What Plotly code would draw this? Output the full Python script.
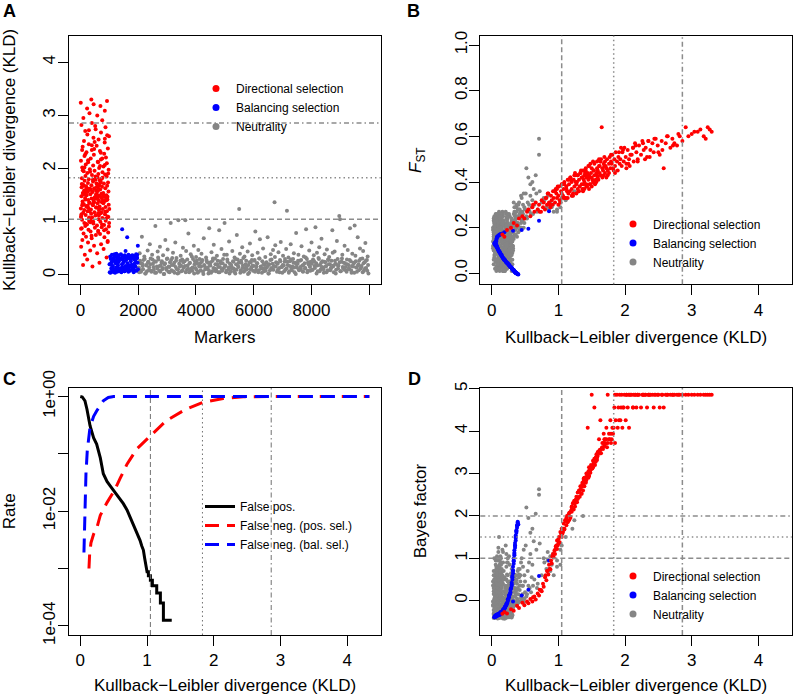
import plotly.graph_objects as go

# ---------------- data ----------------
category_names = ["Directional selection", "Balancing selection", "Neutrality"]
rate_names = ["False pos.", "False neg. (pos. sel.)", "False neg. (bal. sel.)"]

# Directional selection markers: marker index, KLD, FST, log10 Bayes factor
dir_marker = [
    412, 87, 655, 231, 903, 148, 576, 334, 799, 21,
    468, 712, 259, 940, 63, 385, 827, 190, 531, 676,
    105, 958, 347, 612, 274, 883, 40, 497, 731, 162,
    569, 815, 222, 444, 990, 131, 688, 305, 871, 53,
    623, 289, 754, 402, 16, 937, 515, 178, 846, 367,
    701, 94, 482, 913, 243, 636, 359, 772, 12, 548,
    867, 201, 659, 427, 976, 115, 590, 318, 742, 69,
    455, 833, 266, 604, 932, 381, 157, 720, 493, 28,
    647, 212, 895, 340, 561, 79, 786, 418, 967, 253,
    539, 124, 681, 295, 858, 471, 36, 744, 193, 922,
    376, 611, 84, 809, 257, 952, 433, 140, 667, 521,
    283, 729, 47, 588, 904, 170, 396, 851, 615, 232,
    760, 109, 486, 973, 322, 643, 58, 795, 437, 181,
    910, 264, 597, 14, 705, 352, 880, 136, 462, 819,
    205, 672, 391, 946, 73, 558, 287, 837, 119, 625,
    447, 985, 236, 708, 162, 523, 864, 31, 392, 751,
    98, 580, 310, 841, 227, 689, 453, 8, 917, 374,
    634, 269, 792, 503, 145, 868, 325, 601, 44, 778,
    349, 716, 58, 883, 241, 605, 127, 962, 470, 788,
    193, 537, 905, 276, 661, 32, 418, 824, 151, 694,
    880, 312, 747, 99, 566, 429, 981, 214, 639, 355,
    517, 77, 841, 263, 702, 390, 956, 134, 608, 472,
    25, 659, 298, 934, 186, 553, 817, 441, 72, 726,
    613, 246, 871, 405, 118, 760, 337, 995, 579, 208,
    752, 164, 488, 923, 331, 676, 55, 842, 289, 507,
    938, 382, 612, 19, 745, 297, 851, 172, 533, 694,
]
dir_kld = [
    0.16, 0.19, 0.23, 0.29, 0.33, 0.38, 0.41, 0.46, 0.49, 0.53,
    0.55, 0.58, 0.61, 0.64, 0.66, 0.69, 0.71, 0.72, 0.75, 0.77,
    0.78, 0.80, 0.82, 0.83, 0.85, 0.86, 0.88, 0.89, 0.90, 0.92,
    0.93, 0.94, 0.95, 0.97, 0.98, 0.98, 1.00, 1.01, 1.02, 1.04,
    1.05, 1.05, 1.07, 1.08, 1.09, 1.10, 1.12, 1.13, 1.14, 1.15,
    1.16, 1.17, 1.18, 1.20, 1.20, 1.22, 1.23, 1.24, 1.25, 1.27,
    1.28, 1.29, 1.29, 1.31, 1.32, 1.33, 1.35, 1.36, 1.37, 1.38,
    1.39, 1.39, 1.41, 1.42, 1.42, 1.44, 1.45, 1.46, 1.46, 1.48,
    1.49, 1.50, 1.50, 1.52, 1.53, 1.54, 1.54, 1.56, 1.57, 1.58,
    1.59, 1.59, 1.61, 1.62, 1.63, 1.63, 1.65, 1.66, 1.67, 1.68,
    1.69, 1.70, 1.70, 1.72, 1.73, 1.74, 1.76, 1.77, 1.78, 1.79,
    1.80, 1.81, 1.82, 1.84, 1.85, 1.86, 1.88, 1.89, 1.90, 1.92,
    1.93, 1.95, 1.96, 1.98, 1.99, 2.01, 2.02, 2.04, 2.06, 2.08,
    2.10, 2.12, 2.13, 2.15, 2.17, 2.19, 2.21, 2.24, 2.26, 2.28,
    2.31, 2.33, 2.35, 2.38, 2.41, 2.43, 2.46, 2.49, 2.52, 2.55,
    2.58, 2.61, 2.64, 2.68, 2.71, 2.74, 2.78, 2.82, 2.86, 2.91,
    2.95, 3.00, 3.04, 3.09, 3.13, 3.18, 3.21, 3.24, 3.27, 3.30,
    1.12, 1.26, 1.35, 1.44, 1.53, 1.47, 1.62, 1.58, 1.71, 1.38,
    1.03, 1.18, 1.31, 1.45, 1.56, 1.64, 1.22, 1.09, 1.37, 1.50,
    0.96, 1.27, 1.41, 1.60, 1.69, 1.14, 1.33, 1.48, 1.55, 1.74,
    1.06, 1.20, 1.43, 1.52, 1.66, 1.79, 0.91, 1.29, 1.39, 1.61,
    1.85, 1.97, 2.07, 2.16, 2.30, 2.44, 1.91, 2.02, 2.12, 2.37,
    1.11, 1.25, 1.36, 1.47, 1.58, 1.72, 0.84, 1.00, 1.34, 1.53,
    1.16, 1.30, 1.40, 1.57, 1.68, 1.83, 0.99, 1.24, 1.46, 1.63,
    2.19, 2.27, 2.50, 2.63, 1.94, 2.05, 2.35, 2.56, 2.72, 2.80,
    0.62, 0.74, 0.81, 0.87, 0.95, 1.08, 1.19, 1.42, 1.51, 1.76,
]
dir_fst = [
    0.17, 0.16, 0.19, 0.20, 0.22, 0.21, 0.24, 0.25, 0.24, 0.27,
    0.28, 0.25, 0.29, 0.27, 0.31, 0.28, 0.30, 0.27, 0.32, 0.29,
    0.31, 0.28, 0.33, 0.30, 0.35, 0.31, 0.29, 0.34, 0.32, 0.36,
    0.33, 0.36, 0.31, 0.35, 0.37, 0.33, 0.34, 0.38, 0.32, 0.36,
    0.35, 0.39, 0.34, 0.37, 0.40, 0.33, 0.38, 0.36, 0.41, 0.35,
    0.39, 0.36, 0.42, 0.37, 0.40, 0.35, 0.41, 0.38, 0.43, 0.39,
    0.40, 0.37, 0.43, 0.41, 0.38, 0.44, 0.39, 0.42, 0.36, 0.41,
    0.43, 0.40, 0.45, 0.42, 0.38, 0.44, 0.41, 0.47, 0.43, 0.39,
    0.44, 0.42, 0.46, 0.40, 0.45, 0.43, 0.48, 0.41, 0.44, 0.46,
    0.45, 0.42, 0.47, 0.44, 0.49, 0.43, 0.64, 0.46, 0.45, 0.48,
    0.47, 0.44, 0.49, 0.46, 0.50, 0.45, 0.48, 0.51, 0.46, 0.49,
    0.48, 0.52, 0.46, 0.50, 0.47, 0.53, 0.49, 0.45, 0.51, 0.48,
    0.50, 0.47, 0.53, 0.49, 0.55, 0.51, 0.48, 0.54, 0.50, 0.52,
    0.52, 0.55, 0.49, 0.57, 0.53, 0.50, 0.56, 0.52, 0.58, 0.54,
    0.55, 0.51, 0.58, 0.54, 0.57, 0.53, 0.59, 0.56, 0.52, 0.58,
    0.46, 0.57, 0.60, 0.55, 0.59, 0.57, 0.56, 0.60, 0.58, 0.64,
    0.60, 0.61, 0.62, 0.62, 0.63, 0.60, 0.59, 0.64, 0.63, 0.62,
    0.37, 0.40, 0.42, 0.43, 0.45, 0.42, 0.47, 0.43, 0.47, 0.39,
    0.31, 0.42, 0.36, 0.47, 0.40, 0.50, 0.34, 0.39, 0.45, 0.38,
    0.37, 0.35, 0.46, 0.41, 0.51, 0.33, 0.44, 0.48, 0.39, 0.43,
    0.39, 0.34, 0.38, 0.49, 0.42, 0.52, 0.30, 0.43, 0.37, 0.50,
    0.44, 0.54, 0.47, 0.56, 0.50, 0.59, 0.53, 0.46, 0.55, 0.51,
    0.33, 0.44, 0.37, 0.39, 0.49, 0.42, 0.35, 0.30, 0.45, 0.40,
    0.41, 0.36, 0.44, 0.40, 0.43, 0.45, 0.38, 0.43, 0.37, 0.49,
    0.49, 0.57, 0.53, 0.60, 0.55, 0.48, 0.58, 0.54, 0.56, 0.61,
    0.30, 0.27, 0.33, 0.30, 0.36, 0.33, 0.41, 0.39, 0.41, 0.44,
]
dir_bf = [
    -0.31, -0.27, -0.30, -0.20, -0.24, -0.12, -0.17, -0.05, -0.11, -0.02,
    -0.06, 0.04, -0.02, 0.10, 0.03, 0.17, 0.12, 0.26, 0.22, 0.40,
    0.33, 0.55, 0.48, 0.70, 0.62, 0.85, 0.74, 0.95, 0.88, 1.10,
    1.02, 1.18, 1.10, 1.30, 1.22, 1.42, 1.35, 1.50, 1.38, 1.58,
    1.50, 1.70, 1.62, 1.82, 1.70, 1.90, 1.78, 2.00, 1.85, 2.02,
    1.90, 2.08, 1.98, 2.20, 2.10, 2.30, 2.15, 2.35, 2.22, 2.45,
    2.32, 2.55, 2.40, 2.60, 2.45, 2.70, 2.52, 2.78, 2.60, 2.85,
    2.70, 2.90, 2.78, 3.00, 2.85, 4.08, 3.05, 2.95, 3.15, 3.02,
    3.20, 4.86, 3.12, 3.30, 3.22, 4.56, 3.35, 3.28, 3.45, 3.38,
    3.50, 3.42, 3.81, 3.55, 3.48, 4.26, 3.60, 3.72, 3.58, 3.94,
    3.65, 3.81, 3.72, 4.08, 3.62, 4.86, 3.94, 3.81, 4.26, 3.72,
    3.81, 4.08, 3.94, 4.56, 3.72, 4.26, 4.86, 4.08, 4.56, 4.86,
    4.26, 4.86, 4.08, 4.56, 4.86, 4.26, 4.86, 4.56, 4.08, 4.86,
    4.86, 4.56, 4.86, 4.86, 4.56, 4.86, 4.86, 4.56, 4.86, 4.86,
    4.86, 4.56, 4.86, 4.86, 4.86, 4.56, 4.86, 4.86, 4.56, 4.86,
    4.56, 4.86, 4.86, 4.86, 4.86, 4.86, 4.86, 4.86, 4.86, 4.86,
    4.86, 4.86, 4.86, 4.86, 4.86, 4.86, 4.86, 4.86, 4.86, 4.86,
    1.95, 2.38, 2.68, 3.00, 3.25, 3.10, 3.55, 3.40, 3.70, 2.88,
    1.62, 1.95, 2.58, 2.90, 3.38, 3.48, 2.30, 1.68, 2.75, 3.15,
    1.28, 2.35, 2.80, 3.52, 3.81, 1.88, 2.62, 3.08, 3.20, 3.72,
    1.58, 2.22, 2.98, 3.15, 3.62, 3.94, 1.05, 2.42, 2.88, 3.50,
    4.86, 4.56, 4.86, 4.86, 4.86, 4.86, 4.26, 4.86, 4.56, 4.86,
    1.88, 2.30, 2.74, 3.06, 3.32, 3.81, 0.70, 1.45, 2.52, 3.28,
    2.06, 2.44, 2.90, 3.35, 3.72, 4.08, 1.30, 2.36, 2.94, 3.56,
    4.86, 4.86, 4.86, 4.86, 4.56, 4.86, 4.86, 4.86, 4.86, 4.86,
    0.08, 0.25, 0.60, 0.75, 1.20, 1.70, 2.12, 2.92, 3.12, 3.81,
]

# Balancing selection markers
bal_marker = [
    1012, 1187, 1364, 1529, 1703, 1881, 1245, 1420, 1598, 1776,
    1033, 1415, 1842, 1270, 1658, 1096, 1523, 1937, 1348, 1721,
    1158, 1604, 1989, 1387, 1065, 1812, 1459, 1233, 1676, 1901,
    1121, 1547, 1298, 1763, 1004, 1435, 1869, 1212, 1630, 1978,
    1075, 1489, 1917, 1326, 1741, 1169, 1582, 1258, 1854, 1403,
    1047, 1692, 1375, 1963, 1138, 1567, 1284, 1829, 1511, 1206,
    1884, 1313, 1749, 1026, 1612, 1446, 1951, 1179, 1536, 1797,
    1087, 1662, 1398, 1925, 1241, 1440, 1703, 1570, 1115, 1836,
    1442, 1616, 1985, 1560, 1333, 1148, 1472, 1805, 1291, 1687,
    1053, 1261, 1477, 1688, 1904, 1117, 1339, 1551, 1772, 1960,
    1142, 1368, 1584, 1795, 1029, 1226, 1452, 1663, 1879, 1310,
    1196, 1407, 1619, 1833, 1071, 1288, 1506, 1729, 1944, 1176,
]
bal_kld = [
    0.05, 0.06, 0.07, 0.07, 0.08, 0.09, 0.11, 0.13, 0.16, 0.19,
    0.04, 0.05, 0.05, 0.06, 0.06, 0.07, 0.07, 0.08, 0.08, 0.09,
    0.10, 0.10, 0.11, 0.12, 0.12, 0.13, 0.14, 0.14, 0.15, 0.16,
    0.17, 0.17, 0.18, 0.19, 0.20, 0.20, 0.21, 0.22, 0.22, 0.23,
    0.24, 0.24, 0.25, 0.26, 0.26, 0.27, 0.28, 0.28, 0.29, 0.30,
    0.30, 0.31, 0.31, 0.32, 0.32, 0.32, 0.33, 0.33, 0.33, 0.34,
    0.34, 0.34, 0.35, 0.35, 0.35, 0.36, 0.36, 0.36, 0.37, 0.37,
    0.38, 0.38, 0.39, 0.39, 0.40, 0.07, 0.09, 0.12, 0.15, 0.18,
    0.86, 0.71, 0.55, 0.45, 0.32, 0.06, 0.08, 0.10, 0.12, 0.15,
    0.05, 0.09, 0.13, 0.18, 0.23, 0.27, 0.31, 0.34, 0.36, 0.38,
    0.06, 0.08, 0.11, 0.15, 0.20, 0.25, 0.29, 0.33, 0.35, 0.37,
    0.04, 0.07, 0.10, 0.14, 0.19, 0.22, 0.26, 0.30, 0.32, 0.39,
]
bal_fst = [
    0.125, 0.140, 0.150, 0.142, 0.160, 0.162, 0.168, 0.172, 0.175, 0.180,
    0.130, 0.135, 0.125, 0.130, 0.122, 0.125, 0.118, 0.118, 0.112, 0.108,
    0.103, 0.100, 0.095, 0.090, 0.092, 0.085, 0.080, 0.082, 0.076, 0.072,
    0.068, 0.066, 0.063, 0.060, 0.056, 0.058, 0.052, 0.050, 0.047, 0.045,
    0.042, 0.044, 0.040, 0.037, 0.035, 0.032, 0.030, 0.028, 0.027, 0.025,
    0.022, 0.020, 0.018, 0.017, 0.016, 0.015, 0.014, 0.013, 0.012, 0.010,
    0.009, 0.008, 0.007, 0.006, 0.005, 0.004, 0.003, 0.002, 0.001, 0.000,
    -0.001, -0.002, -0.003, -0.004, -0.005, 0.120, 0.110, 0.094, 0.080, 0.065,
    0.272, 0.230, 0.195, 0.190, 0.187, 0.140, 0.155, 0.165, 0.168, 0.172,
    0.128, 0.108, 0.088, 0.063, 0.046, 0.032, 0.019, 0.009, 0.003, -0.001,
    0.130, 0.115, 0.098, 0.076, 0.056, 0.040, 0.027, 0.013, 0.006, 0.001,
    0.132, 0.120, 0.102, 0.082, 0.058, 0.049, 0.036, 0.023, 0.016, -0.003,
]
bal_bf = [
    -0.36, -0.35, -0.33, -0.36, -0.34, -0.32, -0.31, -0.30, -0.28, -0.26,
    -0.39, -0.37, -0.38, -0.36, -0.38, -0.35, -0.37, -0.34, -0.36, -0.33,
    -0.34, -0.31, -0.32, -0.30, -0.33, -0.28, -0.30, -0.26, -0.27, -0.25,
    -0.24, -0.21, -0.22, -0.18, -0.17, -0.14, -0.13, -0.10, -0.07, -0.06,
    -0.02, 0.03, 0.05, 0.08, 0.12, 0.15, 0.20, 0.25, 0.30, 0.35,
    0.42, 0.50, 0.58, 0.65, 0.72, 0.80, 0.87, 0.93, 1.00, 1.07,
    1.13, 1.19, 1.25, 1.30, 1.36, 1.42, 1.48, 1.54, 1.60, 1.66,
    1.72, 1.78, 1.83, 1.86, 1.80, -0.37, -0.35, -0.33, -0.29, -0.24,
    0.95, 0.58, 0.26, 0.12, -0.02, -0.35, -0.34, -0.32, -0.30, -0.27,
    -0.38, -0.34, -0.29, -0.20, -0.06, 0.15, 0.55, 1.10, 1.50, 1.77,
    -0.37, -0.35, -0.31, -0.27, -0.15, 0.02, 0.28, 0.95, 1.30, 1.64,
    -0.39, -0.36, -0.33, -0.28, -0.18, -0.10, 0.10, 0.38, 0.70, 1.84,
]

# Neutral markers
neu_marker = [
    2008, 2031, 2049, 2077, 2103, 2126, 2150, 2181, 2209, 2240,
    2271, 2298, 2324, 2352, 2378, 2401, 2429, 2455, 2480, 2511,
    2540, 2566, 2593, 2619, 2647, 2672, 2698, 2726, 2751, 2778,
    2806, 2831, 2860, 2884, 2912, 2938, 2965, 2990, 3017, 3044,
    3071, 3098, 3124, 3150, 3177, 3203, 3231, 3256, 3284, 3310,
    3339, 3363, 3390, 3418, 3444, 3469, 3497, 3522, 3548, 3575,
    3605, 3630, 3658, 3684, 3711, 3737, 3764, 3790, 3817, 3843,
    3873, 3897, 3925, 3950, 3978, 4003, 4029, 4056, 4081, 4109,
    4139, 4164, 4190, 4218, 4243, 4270, 4296, 4323, 4349, 4375,
    4406, 4431, 4458, 4484, 4510, 4537, 4563, 4589, 4616, 4642,
    4672, 4699, 4725, 4751, 4778, 4804, 4830, 4857, 4883, 4910,
    4938, 4964, 4990, 5016, 5043, 5069, 5095, 5122, 5147, 5174,
    5206, 5231, 5258, 5283, 5310, 5336, 5362, 5389, 5415, 5441,
    5473, 5496, 5522, 5549, 5575, 5601, 5627, 5654, 5680, 5707,
    5739, 5764, 5790, 5817, 5843, 5869, 5896, 5922, 5948, 5975,
    6004, 6031, 6057, 6083, 6110, 6136, 6162, 6189, 6215, 6241,
    6272, 6298, 6324, 6351, 6377, 6403, 6430, 6456, 6482, 6509,
    6538, 6564, 6590, 6617, 6643, 6669, 6696, 6722, 6748, 6775,
    6806, 6831, 6858, 6884, 6911, 6937, 6963, 6990, 7016, 7042,
    7072, 7098, 7124, 7151, 7177, 7203, 7230, 7256, 7282, 7309,
    7338, 7364, 7391, 7417, 7444, 7470, 7496, 7523, 7549, 7575,
    7604, 7631, 7657, 7684, 7710, 7736, 7763, 7789, 7815, 7842,
    7871, 7898, 7924, 7951, 7977, 8003, 8030, 8056, 8082, 8108,
    8139, 8165, 8191, 8218, 8244, 8270, 8297, 8323, 8349, 8376,
    8404, 8430, 8457, 8484, 8510, 8536, 8563, 8589, 8615, 8642,
    8672, 8697, 8724, 8750, 8776, 8803, 8829, 8855, 8882, 8908,
    8939, 8965, 8991, 9018, 9044, 9070, 9097, 9123, 9149, 9176,
    9205, 9231, 9258, 9284, 9310, 9337, 9363, 9389, 9416, 9442,
    9471, 9497, 9524, 9550, 9576, 9603, 9629, 9655, 9682, 9708,
    9738, 9764, 9791, 9817, 9843, 9869, 9896, 9922, 9948, 9975,
    2019, 2062, 2094, 2141, 2168, 2223, 2257, 2289, 2337, 2366,
    2418, 2447, 2493, 2527, 2578, 2611, 2660, 2688, 2739, 2764,
    2819, 2849, 2897, 2925, 2977, 3004, 3057, 3086, 3137, 3163,
    3215, 3244, 3297, 3325, 3376, 3404, 3457, 3483, 3535, 3563,
    3617, 3645, 3697, 3724, 3776, 3803, 3856, 3884, 3937, 3964,
    4016, 4043, 4096, 4124, 4177, 4204, 4256, 4284, 4336, 4362,
    4418, 4444, 4497, 4523, 4576, 4602, 4655, 4684, 4737, 4764,
    4817, 4845, 4897, 4924, 4977, 5004, 5056, 5083, 5135, 5162,
    5218, 5245, 5296, 5323, 5375, 5402, 5455, 5484, 5536, 5562,
    5614, 5642, 5694, 5720, 5753, 5803, 5856, 5883, 5935, 5962,
    6017, 6044, 6096, 6123, 6175, 6202, 6255, 6284, 6337, 6364,
    6416, 6443, 6495, 6522, 6577, 6604, 6656, 6683, 6735, 6762,
    6818, 6845, 6897, 6924, 6976, 7003, 7055, 7085, 7137, 7164,
    7216, 7243, 7295, 7322, 7377, 7404, 7457, 7483, 7536, 7562,
    7617, 7644, 7697, 7723, 7776, 7802, 7856, 7884, 7937, 7964,
    8016, 8043, 8095, 8122, 8178, 8204, 8257, 8284, 8336, 8363,
    8417, 8443, 8496, 8523, 8576, 8602, 8655, 8684, 8737, 8764,
    8816, 8842, 8895, 8922, 8977, 9004, 9057, 9084, 9136, 9163,
    9218, 9244, 9297, 9323, 9376, 9402, 9455, 9484, 9537, 9563,
    9616, 9643, 9695, 9722, 9777, 9804, 9856, 9883, 9935, 9962,
]
neu_kld = [
    0.12, 0.05, 0.41, 0.22, 0.09, 0.72, 0.17, 0.28, 0.35, 0.03,
    0.19, 0.07, 0.46, 0.25, 0.14, 0.58, 0.31, 0.06, 0.38, 0.21,
    0.10, 0.26, 0.92, 0.04, 0.16, 0.44, 0.29, 0.08, 0.53, 0.18,
    0.23, 0.11, 0.37, 0.02, 0.20, 0.66, 0.13, 0.30, 0.48, 0.06,
    0.15, 0.24, 0.98, 0.09, 0.32, 0.42, 0.19, 0.04, 0.61, 0.27,
    0.11, 0.03, 1.03, 0.21, 0.16, 0.36, 0.07, 0.29, 0.51, 0.14,
    0.26, 1.03, 0.45, 0.10, 0.18, 0.78, 0.05, 0.23, 0.39, 0.12,
    0.08, 0.30, 0.55, 0.20, 0.13, 0.34, 0.27, 0.04, 0.47, 0.16,
    0.22, 0.09, 0.40, 0.28, 0.06, 0.69, 0.17, 0.11, 0.33, 0.25,
    0.14, 0.03, 0.88, 0.19, 0.24, 0.43, 0.07, 0.31, 0.57, 0.12,
    0.20, 0.10, 0.36, 0.27, 0.05, 0.84, 0.15, 0.22, 0.49, 0.08,
    0.30, 0.13, 0.98, 0.18, 0.05, 0.38, 0.25, 0.10, 0.63, 0.21,
    0.07, 0.16, 0.45, 0.26, 0.12, 0.33, 0.03, 0.20, 0.75, 0.29,
    0.15, 1.24, 0.40, 0.09, 0.23, 0.52, 0.18, 0.06, 0.35, 0.13,
    0.27, 0.11, 0.44, 0.19, 0.04, 0.59, 0.24, 0.14, 0.37, 0.08,
    0.17, 0.28, 0.82, 0.10, 0.22, 0.42, 0.05, 0.31, 0.67, 0.16,
    0.12, 0.26, 0.50, 0.07, 0.19, 0.34, 0.23, 0.14, 0.71, 0.03,
    0.20, 0.09, 0.39, 0.29, 0.11, 0.47, 0.17, 1.37, 0.56, 0.24,
    0.06, 0.21, 0.43, 0.13, 0.28, 0.62, 0.15, 0.04, 0.36, 0.18,
    0.25, 0.10, 0.49, 1.21, 0.19, 0.33, 0.07, 0.26, 0.58, 0.12,
    0.16, 0.30, 0.41, 0.05, 0.23, 0.79, 0.14, 0.21, 0.38, 0.09,
    0.27, 0.12, 0.54, 0.18, 0.06, 0.35, 0.22, 0.13, 0.86, 0.30,
    0.08, 0.20, 0.46, 0.15, 0.25, 0.61, 0.10, 0.29, 0.37, 0.17,
    0.90, 0.22, 0.42, 0.07, 0.32, 0.52, 0.19, 0.11, 0.68, 0.26,
    0.14, 0.04, 0.39, 0.24, 0.17, 0.48, 0.09, 0.28, 0.34, 0.20,
    0.12, 0.27, 0.84, 0.16, 0.05, 0.44, 0.21, 0.10, 0.64, 0.30,
    0.18, 1.11, 1.05, 0.07, 0.25, 0.38, 0.13, 0.23, 0.55, 0.15,
    0.09, 0.29, 0.47, 0.19, 0.11, 0.88, 0.26, 0.04, 0.40, 0.16,
    0.22, 0.93, 0.36, 0.14, 0.06, 0.71, 0.20, 0.27, 0.50, 0.12,
    0.17, 0.31, 0.45, 0.08, 0.24, 0.60, 0.13, 0.28, 0.35, 0.03,
    0.14, 0.27, 0.06, 0.21, 0.11, 0.30, 0.03, 0.18, 0.24, 0.09,
    0.20, 0.08, 0.29, 0.15, 0.04, 0.25, 0.12, 0.33, 0.17, 0.06,
    0.26, 0.13, 0.02, 0.22, 0.10, 0.31, 0.16, 0.05, 0.28, 0.19,
    0.07, 0.23, 0.15, 0.32, 0.11, 0.04, 0.27, 0.18, 0.09, 0.24,
    0.17, 0.05, 0.29, 0.12, 0.22, 0.08, 0.35, 0.14, 0.03, 0.26,
    0.10, 0.21, 0.06, 0.30, 0.16, 0.25, 0.02, 0.19, 0.12, 0.28,
    0.23, 0.09, 0.18, 0.04, 0.27, 0.13, 0.31, 0.07, 0.20, 0.15,
    0.05, 0.26, 0.11, 0.22, 0.38, 0.16, 0.08, 0.29, 0.14, 0.03,
    0.19, 0.12, 0.25, 0.06, 0.30, 0.10, 0.17, 0.23, 0.04, 0.27,
    0.13, 0.32, 0.08, 0.20, 0.15, 0.02, 0.24, 0.11, 0.28, 0.18,
    0.27, 0.06, 0.16, 0.22, 0.09, 0.31, 0.14, 0.04, 0.20, 0.12,
    0.08, 0.24, 0.18, 0.03, 0.28, 0.13, 0.21, 0.10, 0.34, 0.16,
    0.22, 0.11, 0.05, 0.26, 0.15, 0.19, 0.07, 0.30, 0.12, 0.25,
    0.04, 0.17, 0.29, 0.09, 0.23, 0.14, 0.02, 0.20, 0.27, 0.10,
    0.15, 0.28, 0.07, 0.19, 0.12, 0.33, 0.05, 0.24, 0.17, 0.08,
    0.21, 0.10, 0.26, 0.13, 0.03, 0.18, 0.30, 0.07, 0.23, 0.15,
    0.11, 0.25, 0.16, 0.05, 0.29, 0.20, 0.09, 0.14, 0.42, 0.18,
    0.27, 0.03, 0.19, 0.12, 0.24, 0.07, 0.31, 0.15, 0.10, 0.22,
    0.06, 0.20, 0.13, 0.28, 0.09, 0.17, 0.23, 0.04, 0.26, 0.14,
    0.18, 0.09, 0.30, 0.15, 0.05, 0.22, 0.12, 0.27, 0.08, 0.19,
]
neu_fst = [
    0.08, 0.15, 0.31, 0.02, 0.21, 0.36, 0.11, 0.06, 0.25, 0.04,
    0.17, 0.01, 0.27, 0.13, 0.24, 0.39, 0.09, 0.19, 0.22, 0.05,
    0.12, 0.20, 0.30, 0.07, 0.03, 0.34, 0.16, 0.26, 0.24, 0.10,
    0.23, 0.05, 0.29, 0.14, 0.08, 0.43, 0.18, 0.01, 0.20, 0.10,
    0.22, 0.04, 0.28, 0.16, 0.12, 0.26, 0.07, 0.20, 0.32, 0.18,
    0.13, 0.24, 0.31, 0.09, 0.27, 0.19, 0.03, 0.22, 0.35, 0.06,
    0.11, 0.29, 0.23, 0.19, 0.01, 0.33, 0.12, 0.16, 0.28, 0.25,
    0.09, 0.14, 0.42, 0.21, 0.04, 0.17, 0.07, 0.18, 0.30, 0.15,
    0.26, 0.02, 0.21, 0.11, 0.23, 0.28, 0.09, 0.17, 0.31, 0.03,
    0.19, 0.10, 0.30, 0.14, 0.24, 0.25, 0.06, 0.19, 0.27, 0.01,
    0.12, 0.25, 0.24, 0.15, 0.08, 0.34, 0.20, 0.05, 0.29, 0.14,
    0.23, 0.10, 0.27, 0.18, 0.02, 0.16, 0.20, 0.07, 0.37, 0.27,
    0.16, 0.08, 0.33, 0.13, 0.22, 0.26, 0.11, 0.03, 0.31, 0.18,
    0.14, 0.36, 0.18, 0.20, 0.09, 0.46, 0.23, 0.05, 0.21, 0.12,
    0.25, 0.04, 0.22, 0.15, 0.21, 0.26, 0.10, 0.26, 0.30, 0.13,
    0.06, 0.17, 0.29, 0.18, 0.24, 0.19, 0.09, 0.04, 0.35, 0.21,
    0.16, 0.08, 0.28, 0.24, 0.11, 0.27, 0.02, 0.19, 0.59, 0.06,
    0.17, 0.12, 0.25, 0.13, 0.27, 0.24, 0.04, 0.37, 0.30, 0.22,
    0.20, 0.10, 0.27, 0.07, 0.19, 0.26, 0.24, 0.15, 0.17, 0.05,
    0.14, 0.22, 0.22, 0.34, 0.08, 0.23, 0.17, 0.26, 0.34, 0.03,
    0.13, 0.09, 0.28, 0.19, 0.12, 0.32, 0.23, 0.06, 0.20, 0.10,
    0.21, 0.15, 0.31, 0.02, 0.26, 0.26, 0.16, 0.08, 0.28, 0.24,
    0.18, 0.07, 0.23, 0.20, 0.10, 0.40, 0.05, 0.14, 0.27, 0.25,
    0.29, 0.19, 0.26, 0.09, 0.18, 0.25, 0.13, 0.21, 0.27, 0.04,
    0.16, 0.12, 0.22, 0.08, 0.26, 0.35, 0.14, 0.20, 0.29, 0.01,
    0.23, 0.11, 0.30, 0.05, 0.17, 0.20, 0.20, 0.08, 0.30, 0.16,
    0.10, 0.32, 0.33, 0.20, 0.17, 0.24, 0.03, 0.25, 0.28, 0.15,
    0.04, 0.12, 0.26, 0.22, 0.18, 0.31, 0.07, 0.22, 0.30, 0.11,
    0.14, 0.27, 0.22, 0.09, 0.25, 0.52, 0.19, 0.05, 0.24, 0.17,
    0.21, 0.15, 0.20, 0.06, 0.26, 0.29, 0.12, 0.10, 0.23, 0.16,
    0.05, 0.12, 0.20, 0.02, 0.16, 0.09, 0.23, 0.07, 0.14, 0.18,
    0.10, 0.25, 0.04, 0.19, 0.13, 0.06, 0.22, 0.15, 0.01, 0.17,
    0.08, 0.21, 0.11, 0.03, 0.26, 0.14, 0.06, 0.19, 0.12, 0.09,
    0.24, 0.07, 0.16, 0.10, 0.02, 0.20, 0.13, 0.05, 0.22, 0.15,
    0.11, 0.18, 0.06, 0.25, 0.09, 0.14, 0.20, 0.03, 0.17, 0.12,
    0.21, 0.04, 0.15, 0.08, 0.23, 0.11, 0.19, 0.13, 0.02, 0.16,
    0.07, 0.22, 0.10, 0.17, 0.05, 0.26, 0.12, 0.20, 0.09, 0.14,
    0.18, 0.03, 0.24, 0.13, 0.22, 0.07, 0.16, 0.10, 0.20, 0.12,
    0.04, 0.19, 0.09, 0.23, 0.12, 0.15, 0.01, 0.18, 0.25, 0.08,
    0.16, 0.11, 0.21, 0.06, 0.14, 0.20, 0.03, 0.24, 0.10, 0.13,
    0.09, 0.20, 0.05, 0.17, 0.24, 0.12, 0.19, 0.08, 0.15, 0.02,
    0.22, 0.10, 0.14, 0.18, 0.06, 0.25, 0.04, 0.16, 0.21, 0.11,
    0.13, 0.06, 0.23, 0.09, 0.19, 0.02, 0.21, 0.12, 0.17, 0.05,
    0.20, 0.15, 0.08, 0.22, 0.10, 0.18, 0.12, 0.03, 0.16, 0.25,
    0.06, 0.14, 0.19, 0.01, 0.23, 0.16, 0.11, 0.20, 0.07, 0.17,
    0.12, 0.24, 0.03, 0.18, 0.15, 0.09, 0.21, 0.14, 0.05, 0.19,
    0.17, 0.08, 0.22, 0.13, 0.04, 0.11, 0.26, 0.18, 0.28, 0.10,
    0.03, 0.16, 0.12, 0.20, 0.09, 0.24, 0.06, 0.14, 0.19, 0.21,
    0.15, 0.07, 0.25, 0.11, 0.18, 0.02, 0.13, 0.22, 0.10, 0.20,
    0.09, 0.19, 0.14, 0.05, 0.21, 0.12, 0.17, 0.08, 0.23, 0.06,
]
neu_bf = [
    -0.21, 0.12, 0.62, -0.38, 0.44, 1.35, -0.05, -0.30, 0.10, -0.41,
    0.21, -0.40, 0.35, -0.12, 0.85, 1.60, -0.20, 0.30, -0.08, -0.33,
    -0.10, 0.40, 1.10, -0.37, -0.36, 0.90, 0.05, 1.05, 0.15, -0.18,
    0.62, -0.35, 0.48, -0.02, -0.25, 2.05, 0.20, -0.40, -0.05, -0.27,
    0.55, -0.36, 0.95, 0.05, -0.15, 0.25, -0.28, 0.38, 0.85, 0.30,
    -0.06, 0.70, 1.20, -0.22, 1.20, -0.02, -0.39, 0.65, 1.30, -0.30,
    -0.10, 0.85, 0.05, 0.25, -0.41, 1.00, -0.15, 0.15, 0.70, 0.95,
    -0.24, 0.00, 1.95, 0.50, -0.38, -0.10, -0.29, 0.15, 0.80, 0.08,
    1.10, -0.42, 0.15, -0.14, 0.60, 0.40, -0.23, 0.10, 0.55, -0.37,
    0.35, -0.30, 0.70, -0.05, 0.90, 0.45, -0.34, 0.20, 0.30, -0.40,
    -0.12, 0.75, 0.20, 0.10, -0.26, 1.15, 0.42, -0.32, 0.60, -0.08,
    0.58, -0.16, 0.80, 0.22, -0.41, -0.12, 0.35, -0.30, 1.40, 1.30,
    0.00, -0.20, 1.00, -0.08, 0.50, 0.40, -0.22, -0.39, 0.60, 0.12,
    0.02, 1.90, -0.05, 0.32, -0.24, 2.20, 0.70, -0.35, 0.25, -0.12,
    0.85, -0.37, 0.10, 0.00, 0.45, 0.20, -0.20, 1.00, 0.50, -0.10,
    -0.31, 0.08, 0.75, 0.18, 0.80, -0.02, -0.25, -0.35, 1.20, 0.48,
    0.08, -0.27, 0.45, 0.80, -0.14, 0.62, -0.40, 0.28, 2.63, -0.33,
    0.15, -0.18, 0.30, -0.10, 1.50, 0.00, -0.36, 2.00, 0.90, 0.60,
    0.36, -0.20, 0.60, -0.29, 0.25, 0.35, 0.75, 0.05, -0.08, -0.33,
    -0.02, 0.55, 0.05, 1.70, -0.26, 0.30, 0.12, 1.05, 1.10, -0.38,
    -0.10, -0.22, 0.55, 0.25, -0.06, 0.90, 0.65, -0.31, 0.05, -0.20,
    0.45, 0.00, 0.70, -0.41, 0.95, 0.45, 0.10, -0.25, 0.75, 0.75,
    0.20, -0.27, 0.15, 0.40, -0.18, 1.70, -0.33, -0.05, 0.60, 0.90,
    0.85, 0.30, 0.35, -0.28, 0.00, 0.10, -0.10, 0.50, 0.30, -0.36,
    0.10, -0.20, 0.00, -0.26, 1.15, 1.20, -0.05, 0.40, 0.55, -0.42,
    0.60, -0.12, 0.95, -0.30, 0.10, 0.05, 0.35, -0.23, 0.50, 0.10,
    -0.15, 1.50, 1.30, 0.30, 0.15, 0.25, -0.38, 0.90, 0.35, 0.02,
    -0.34, -0.10, 0.35, 0.55, 0.15, 1.05, -0.30, 0.50, 0.75, -0.10,
    0.00, 0.60, 0.15, -0.20, 0.85, 2.50, 0.30, -0.35, 0.20, 0.05,
    0.40, -0.05, -0.02, -0.30, 1.00, 0.55, -0.10, -0.20, 0.30, -0.05,
    -0.33, 0.10, 0.45, -0.40, 0.20, -0.20, 0.60, -0.28, 0.05, 0.30,
    -0.15, 0.95, -0.36, 0.35, -0.05, -0.30, 0.50, 0.00, -0.42, 0.25,
    -0.22, 0.55, -0.10, -0.39, 1.25, 0.05, -0.31, 0.40, -0.12, -0.18,
    0.75, -0.27, 0.15, -0.16, -0.41, 0.42, -0.03, -0.35, 0.65, 0.10,
    -0.08, 0.30, -0.30, 0.85, -0.20, 0.02, 0.48, -0.38, 0.22, -0.10,
    0.60, -0.37, 0.08, -0.24, 0.70, -0.12, 0.36, -0.02, -0.40, 0.18,
    -0.28, 0.68, -0.14, 0.26, -0.34, 1.05, -0.06, 0.50, -0.22, 0.04,
    0.32, -0.39, 0.82, -0.04, 0.40, -0.27, 0.12, -0.18, 0.55, -0.12,
    -0.36, 0.42, -0.22, 0.62, -0.08, 0.15, -0.41, 0.30, 1.00, -0.26,
    0.12, -0.15, 0.55, -0.30, 0.00, 0.45, -0.38, 0.78, -0.17, -0.05,
    -0.20, 0.48, -0.33, 0.22, 0.72, -0.10, 0.40, -0.26, 0.06, -0.40,
    0.66, -0.18, 0.02, 0.30, -0.32, 0.90, -0.37, 0.18, 0.52, -0.14,
    -0.06, -0.31, 0.70, -0.22, 0.35, -0.41, 0.58, -0.10, 0.24, -0.35,
    0.50, 0.05, -0.27, 0.62, -0.16, 0.30, -0.12, -0.38, 0.14, 1.15,
    -0.31, -0.02, 0.40, -0.42, 0.68, 0.10, -0.20, 0.45, -0.28, 0.20,
    -0.10, 0.80, -0.38, 0.28, 0.00, -0.24, 0.55, -0.08, -0.34, 0.36,
    0.20, -0.26, 0.60, -0.06, -0.39, -0.14, 1.00, 0.32, 0.75, -0.19,
    -0.37, 0.16, -0.08, 0.44, -0.25, 0.72, -0.33, 0.02, 0.38, 0.50,
    0.04, -0.30, 0.85, -0.15, 0.30, -0.41, -0.02, 0.60, -0.20, 0.42,
    -0.24, 0.38, 0.05, -0.35, 0.52, -0.11, 0.26, -0.30, 0.64, -0.33,
]

# KLD thresholds (reference lines) and Bayes factor thresholds
kld_thresholds = [1.05, 1.83, 2.86]
bf_thresholds = [1.0, 1.5, 2.0]

# Panel C: error rates vs KLD threshold
fp_kld = [0.0, 0.03, 0.07, 0.10, 0.146, 0.20, 0.245, 0.30, 0.345, 0.40, 0.445, 0.50,
          0.545, 0.60, 0.645, 0.70, 0.745, 0.78, 0.82, 0.86, 0.895, 0.92, 0.945,
          0.965, 0.98, 0.99, 1.00, 1.02, 1.02, 1.05, 1.05, 1.08, 1.08, 1.145,
          1.145, 1.20, 1.20, 1.245, 1.245, 1.37]
fp_rate = [1.0, 0.98, 0.84, 0.6, 0.31, 0.19, 0.148, 0.085, 0.045, 0.033, 0.028, 0.023,
           0.02, 0.016, 0.0135, 0.0105, 0.0079, 0.0063, 0.0049, 0.0041, 0.0031, 0.0025,
           0.0021, 0.0015, 0.0011, 0.001, 0.000875, 0.000875, 0.00075, 0.00075,
           0.000625, 0.000625, 0.0005, 0.0005, 0.000375, 0.000375, 0.00025, 0.00025,
           0.000125, 0.000125]
fnp_kld = [0.13, 0.14, 0.16, 0.20, 0.25, 0.30, 0.40, 0.52, 0.60, 0.70, 0.85, 1.05,
           1.29, 1.57, 1.84, 2.14, 2.44, 2.80, 4.33]
fnp_rate = [0.001, 0.00178, 0.0028, 0.004, 0.0052, 0.0085, 0.0141, 0.024, 0.038, 0.066,
            0.123, 0.209, 0.38, 0.589, 0.794, 0.923, 0.989, 1.0, 1.0]
fnb_kld = [0.055, 0.065, 0.07, 0.085, 0.105, 0.146, 0.20, 0.245, 0.345, 0.42, 0.50, 4.33]
fnb_rate = [0.0019, 0.006, 0.0117, 0.045, 0.115, 0.29, 0.45, 0.56, 0.84, 0.96, 1.0, 1.0]

# ---------------- styling / layout ----------------
W, H = 794, 697
FONT = "Liberation Sans, Arial, Helvetica, sans-serif"
RED, BLUE, GRAY = "#FF0000", "#0000FF", "#858585"
PT = 4.0


def fx(p):
    return p / W


def fy(p):
    return 1 - p / H


fig = go.Figure()

groups = [
    ("Neutrality", GRAY, neu_marker, neu_kld, neu_fst, neu_bf),
    ("Balancing selection", BLUE, bal_marker, bal_kld, bal_fst, bal_bf),
    ("Directional selection", RED, dir_marker, dir_kld, dir_fst, dir_bf),
]
for name, color, mk, kl, fs, bf in groups:
    common = dict(mode="markers", showlegend=False, hoverinfo="skip", name=name,
                  marker=dict(color=color, size=PT, line=dict(width=0)))
    fig.add_trace(go.Scatter(x=mk, y=kl, xaxis="x", yaxis="y", **common))
    fig.add_trace(go.Scatter(x=kl, y=fs, xaxis="x2", yaxis="y2", **common))
    fig.add_trace(go.Scatter(x=kl, y=bf, xaxis="x4", yaxis="y4", **common))

legend_colors = [RED, BLUE, GRAY]
for leg, xa, ya in [("legend", "x", "y"), ("legend2", "x2", "y2"), ("legend4", "x4", "y4")]:
    for name, color in zip(category_names, legend_colors):
        fig.add_trace(go.Scatter(x=[None], y=[None], mode="markers", name=name,
                                 marker=dict(color=color, size=7), legend=leg,
                                 xaxis=xa, yaxis=ya, hoverinfo="skip"))

fig.add_trace(go.Scatter(x=fp_kld, y=fp_rate, xaxis="x3", yaxis="y3", mode="lines",
                         name=rate_names[0], legend="legend3",
                         line=dict(color="black", width=3)))
fig.add_trace(go.Scatter(x=fnp_kld, y=fnp_rate, xaxis="x3", yaxis="y3", mode="lines",
                         name=rate_names[1], legend="legend3",
                         line=dict(color=RED, width=3, dash="14px,8px")))
fig.add_trace(go.Scatter(x=fnb_kld, y=fnb_rate, xaxis="x3", yaxis="y3", mode="lines",
                         name=rate_names[2], legend="legend3",
                         line=dict(color=BLUE, width=3, dash="14px,8px")))

axis_common = dict(showline=True, mirror=True, linecolor="black", linewidth=1,
                   ticks="outside", ticklen=10, tickwidth=1, tickcolor="black",
                   showgrid=False, zeroline=False, automargin=False,
                   tickfont=dict(size=17, color="black", family=FONT))
yaxis_common = dict(axis_common, tickangle=-90)
minor_common = dict(tickmode="array", ticks="outside", ticklen=10, tickwidth=1,
                    tickcolor="black", showgrid=False)

LEFT_L, LEFT_R = 69, 380.7
RIGHT_L, RIGHT_R = 480.3, 791.7
TOP_T, TOP_B = 35.7, 284.3
BOT_T, BOT_B = 387.5, 635

fig.update_layout(
    template="none",
    width=W, height=H, margin=dict(l=0, r=0, t=0, b=0, pad=0, autoexpand=False),
    paper_bgcolor="white", plot_bgcolor="white",
    font=dict(family=FONT, color="black"),
    xaxis=dict(axis_common, domain=[fx(LEFT_L), fx(LEFT_R)], range=[-400, 10400],
               tickvals=[0, 2000, 4000, 6000, 8000],
               minor=dict(minor_common, tickvals=[10000]), anchor="y"),
    yaxis=dict(yaxis_common, domain=[fy(TOP_B), fy(TOP_T)], range=[-0.175, 4.5],
               tickvals=[0, 1, 2, 3, 4], anchor="x"),
    xaxis2=dict(axis_common, domain=[fx(RIGHT_L), fx(RIGHT_R)], range=[-0.171, 4.5],
                tickvals=[0, 1, 2, 3, 4], anchor="y2"),
    yaxis2=dict(yaxis_common, domain=[fy(TOP_B), fy(TOP_T)], range=[-0.048, 1.041],
                tickvals=[0, 0.2, 0.4, 0.6, 0.8, 1.0], tickformat=".1f", anchor="x2"),
    xaxis3=dict(axis_common, domain=[fx(LEFT_L), fx(LEFT_R)], range=[-0.169, 4.5],
                tickvals=[0, 1, 2, 3, 4], anchor="y3"),
    yaxis3=dict(yaxis_common, type="log", domain=[fy(BOT_B), fy(BOT_T)],
                range=[-4.16, 0.157],
                tickvals=[1, 0.01, 0.0001],
                ticktext=["1e+00", "1e-02", "1e-04"],
                minor=dict(minor_common, tickvals=[0.1, 0.001]), anchor="x3"),
    xaxis4=dict(axis_common, domain=[fx(RIGHT_L), fx(RIGHT_R)], range=[-0.171, 4.5],
                tickvals=[0, 1, 2, 3, 4], anchor="y4"),
    yaxis4=dict(yaxis_common, domain=[fy(BOT_B), fy(BOT_T)], range=[-0.81, 5.03],
                tickvals=[0, 1, 2, 3, 4, 5], anchor="x4"),
)
# nudge the rotated y tick labels a little toward the axis, as in the reference
for yname in ["yaxis", "yaxis2", "yaxis3", "yaxis4"]:
    try:
        fig.layout[yname].ticklabelstandoff = -4
    except ValueError:
        pass

legend_common = dict(bgcolor="rgba(0,0,0,0)", borderwidth=0, xanchor="left",
                     yanchor="top", font=dict(size=12, family=FONT, color="black"),
                     tracegroupgap=0)
fig.update_layout(
    legend=dict(legend_common, x=fx(196), y=fy(74)),
    legend2=dict(legend_common, x=fx(613), y=fy(209.5)),
    legend3=dict(legend_common, x=fx(200), y=fy(492)),
    legend4=dict(legend_common, x=fx(613), y=fy(561.5)),
)

# reference lines
dash_styles = ["5px,3px", "1.5px,3px", "5px,3px,1.5px,3px"]
shapes = []
for v, d in zip(kld_thresholds, dash_styles):
    shapes.append(dict(type="line", xref="x domain", yref="y", x0=0, x1=1, y0=v, y1=v,
                       line=dict(color="#8c8c8c", width=1.5, dash=d)))
    for xa in ["x2", "x4"]:
        ya = "y" + xa[1:]
        shapes.append(dict(type="line", xref=xa, yref=ya + " domain", x0=v, x1=v,
                           y0=0, y1=1, line=dict(color="#8c8c8c", width=1.5, dash=d)))
    shapes.append(dict(type="line", xref="x3", yref="y3 domain", x0=v, x1=v, y0=0, y1=1,
                       line=dict(color="#707070", width=1, dash=d)))
for v, d in zip(bf_thresholds, dash_styles):
    shapes.append(dict(type="line", xref="x4 domain", yref="y4", x0=0, x1=1, y0=v, y1=v,
                       line=dict(color="#8c8c8c", width=1.5, dash=d)))
fig.update_layout(shapes=shapes)

KLD_TITLE = "Kullback\u2212Leibler divergence (KLD)"
ann = []


def title(text, x, y, angle=0, size=17):
    ann.append(dict(text=text, x=fx(x), y=fy(y), xref="paper", yref="paper",
                    xanchor="center", yanchor="middle", showarrow=False,
                    textangle=angle, font=dict(size=size, family=FONT, color="black")))


title("Markers", (LEFT_L + LEFT_R) / 2, 338)
title(KLD_TITLE, 10, (TOP_T + TOP_B) / 2, -90)
title(KLD_TITLE, (RIGHT_L + RIGHT_R) / 2, 338)
title("<i>F</i><sub>ST</sub>", 417, (TOP_T + TOP_B) / 2, -90)
title(KLD_TITLE, (LEFT_L + LEFT_R) / 2, 685)
title("Rate", 9, (BOT_T + BOT_B) / 2, -90)
title(KLD_TITLE, (RIGHT_L + RIGHT_R) / 2, 685)
title("Bayes factor", 420, (BOT_T + BOT_B) / 2, -90)
for letter, x, y in [("A", 9, 11), ("B", 413, 11), ("C", 9, 379), ("D", 414, 379)]:
    title("<b>%s</b>" % letter, x, y, 0, 18)
fig.update_layout(annotations=ann)

# the page body has a default 8px margin; remove it so the figure fills the window
fig.write_html("out.html",
               config={"displayModeBar": False},
               post_script="document.body.style.margin='0px';"
                           "document.body.style.overflow='hidden';")
